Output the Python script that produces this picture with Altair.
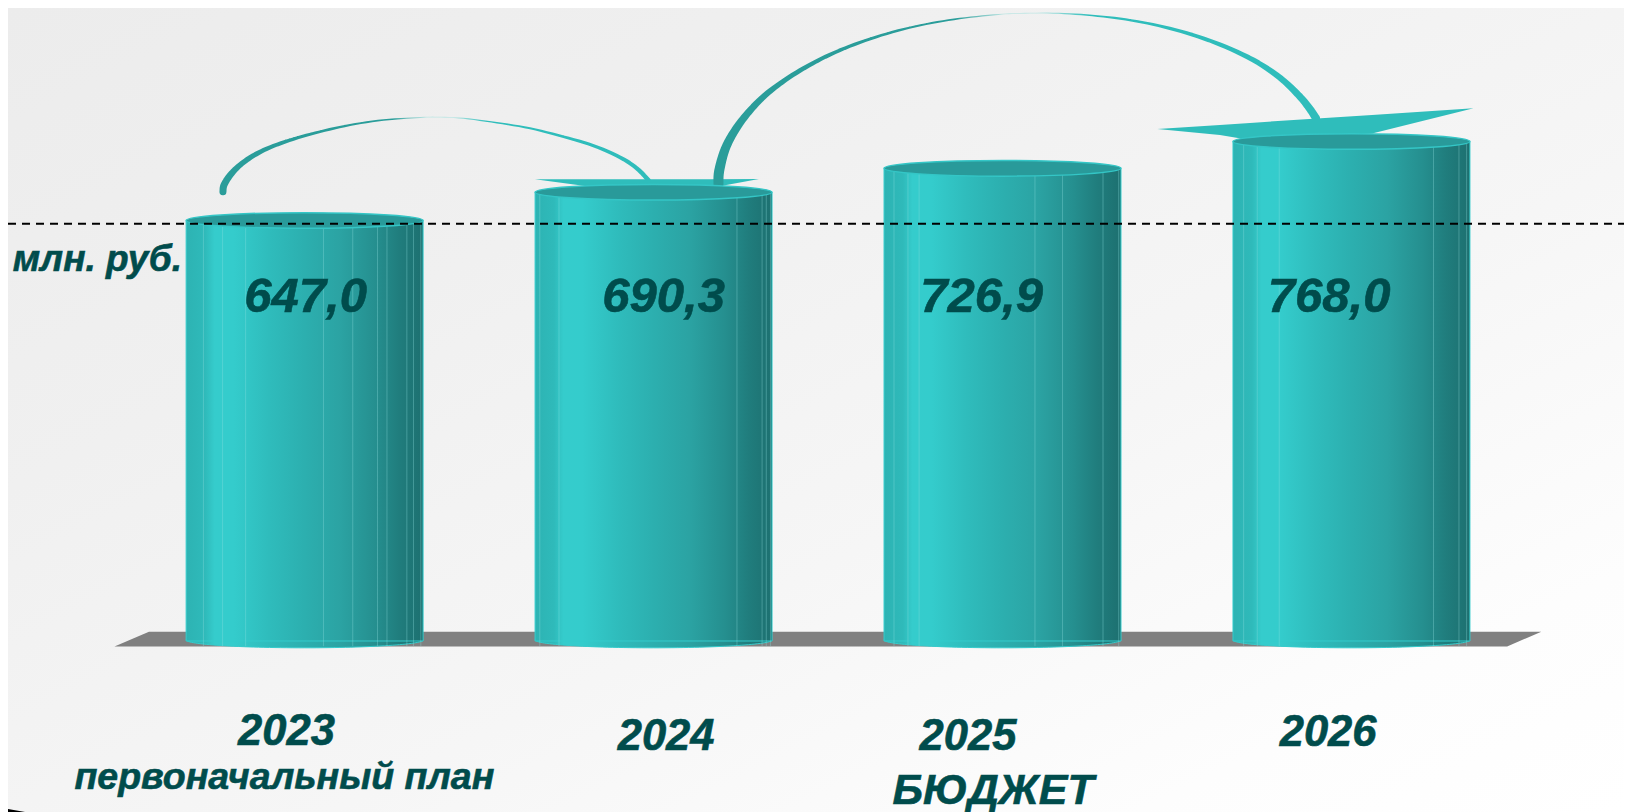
import altair as alt
import pandas as pd

# ---- values ----
years = [2023, 2024, 2025, 2026]
values = [647.0, 690.3, 726.9, 768.0]
value_text = ["647,0", "690,3", "726,9", "768,0"]
value_text_x = [2023.003, 2024.029, 2024.940, 2025.936]
value_text_y = [503.4, 503.4, 503.4, 503.4]

label_text = ["2023", "2024", "2025", "2026"]
label_x = [2022.948, 2024.036, 2024.901, 2025.933]
label_y = [-159.7, -167.7, -167.7, -161.3]

note_text = ["первоначальный план", "млн. руб."]
note_x = [2022.942, 2022.406]
note_y = [-226.7, 567.2]
budget_text = ["БЮДЖЕТ"]
budget_x = [2024.973]
budget_y = [-249.0]

arc1_x = [2022.766, 2022.769, 2022.787, 2022.815, 2022.853, 2022.901, 2022.968, 2023.044, 2023.130, 2023.226,
          2023.321, 2023.379, 2023.455, 2023.551, 2023.646, 2023.742, 2023.828, 2023.904, 2023.952, 2023.985]
arc1_y = [688.0, 698.3, 713.6, 728.9, 743.2, 756.0, 768.7, 779.9, 790.2, 797.8,
          801.4, 802.4, 800.4, 793.7, 785.1, 772.3, 758.5, 740.7, 723.9, 705.9]
arc1_w = [7, 7, 6.5, 5.5, 5, 4.2, 3.4, 2.8, 2.2, 1.6, 1, 0.8, 1, 1.5, 2, 2.6, 3.2, 3.8, 4.2, 4.6]

arc2_x = [2024.186, 2024.188, 2024.205, 2024.234, 2024.272, 2024.319, 2024.377, 2024.444, 2024.520, 2024.606,
          2024.701, 2024.797, 2024.893, 2024.988, 2025.050, 2025.145, 2025.241, 2025.337, 2025.431, 2025.528,
          2025.623, 2025.719, 2025.795, 2025.852, 2025.881, 2025.898]
arc2_y = [699.4, 719.7, 753.1, 782.5, 809.6, 835.4, 859.1, 881.2, 901.5, 919.4,
          934.9, 946.4, 954.3, 959.5, 961.2, 961.5, 958.6, 953.1, 944.2, 931.1,
          913.5, 889.7, 862.7, 833.8, 814.6, 801.0]
arc2_w = [10, 10, 9, 8, 7, 6, 5, 4.4, 3.7, 3,
          2.4, 1.9, 1.4, 1, 0.8, 1, 1.6, 2.2, 2.8, 3.5,
          4.2, 5, 6, 7, 7.6, 8]

floor_x = [2022.455, 2022.554, 2026.446, 2026.544]
floor_top = [-8.3, 14, 14, 14]
floor_bottom = [-8.3, -8.3, -8.3, 14]

wedge_group = ["a", "a", "a", "a", "b", "b", "b", "b", "b"]
wedge_x = [2023.660, 2023.847, 2024.162, 2024.302, 2025.444, 2025.623, 2025.709, 2026.059, 2026.350]
wedge_top = [707.0, 707.2, 707.3, 707.5, 784.0, 790.3, 793.4, 805.6, 815.9]
wedge_bottom = [707.0, 693.7, 693.7, 707.5, 784.0, 774.9, 767.2, 777.2, 815.9]

corner_x = [2022.150, 2022.199]
corner_top = [-257.3, -261.9]
corner_bottom = [-261.9, -261.9]

seam_x = {
    2023: [2022.710, 2022.765, 2022.831, 2023.054, 2023.138, 2023.209, 2023.236, 2023.293, 2023.312, 2023.333],
    2024: [2023.674, 2023.729, 2024.239, 2024.311, 2024.323, 2024.335],
    2025: [2024.689, 2024.729, 2024.761, 2025.093, 2025.172, 2025.288, 2025.333],
    2026: [2025.691, 2025.730, 2025.793, 2026.235, 2026.308, 2026.330],
}
dash_level = [638.9]

# ---- scales ----
W, H = 1616, 804
X_MIN, X_MAX = 2022.150, 2026.781
Y_MIN, Y_MAX = -261.9, 969.4
x_scale = alt.Scale(domain=[X_MIN, X_MAX], range=[0, W], nice=False, zero=False)
y_scale = alt.Scale(domain=[Y_MIN, Y_MAX], range=[H, 0], nice=False, zero=False)
X = lambda f: alt.X(f, type="quantitative", scale=x_scale, axis=None)
Y = lambda f: alt.Y(f, type="quantitative", scale=y_scale, axis=None, stack=None)

HALF = 0.3395
cyl = pd.DataFrame({"year": years, "value": values, "base": [0] * 4})
cyl["left"] = cyl["year"] - HALF
cyl["right"] = cyl["year"] + HALF

FONT = "Liberation Sans"
INK = "#004c4c"
ELLIPSE = "M-1 0 A1 0.066 0 1 1 1 0 A1 0.066 0 1 1 -1 0 Z"
CAP_SIZE = 237 ** 2


def grad(stops, x2=1, y2=0):
    return alt.Gradient(gradient="linear", x1=0, y1=0, x2=x2, y2=y2,
                        stops=[alt.GradientStop(offset=o, color=c) for o, c in stops])


def smooth(seq, steps=6):
    """Rounds the drawn curve through the read points (Catmull-Rom), as a spline line would."""
    out = []
    n = len(seq)
    for i in range(n - 1):
        p0, p1, p2, p3 = seq[max(i - 1, 0)], seq[i], seq[i + 1], seq[min(i + 2, n - 1)]
        for k in range(steps):
            t = k / steps
            out.append(0.5 * (2 * p1 + (p2 - p0) * t + (2 * p0 - 5 * p1 + 4 * p2 - p3) * t ** 2
                              + (3 * p1 - p0 - 3 * p2 + p3) * t ** 3))
    out.append(seq[-1])
    return out


body_stops = [(0, "#2db3b3"), (0.08, "#2fbaba"), (0.12, "#35cccc"), (0.2, "#34cccc"), (0.35, "#2fbcbc"),
              (0.5, "#2cafaf"), (0.65, "#2ba3a3"), (0.8, "#258f8f"), (0.9, "#207d7d"), (1, "#1d7070")]

bg = alt.Chart(pd.DataFrame({"a": [X_MIN], "b": [X_MAX], "c": [Y_MIN], "d": [Y_MAX]})).mark_rect(
    color=grad([(0, "#ececec"), (0.3, "#f0f0f0"), (0.6, "#f6f6f6"), (0.85, "#fdfdfd"), (1, "#ffffff")], 1, 1)
).encode(x=X("a"), x2="b", y=Y("c"), y2="d")

corner = alt.Chart(pd.DataFrame({"x": corner_x, "t": corner_top, "b": corner_bottom})).mark_area(
    color="#000000"
).encode(x=X("x"), y=Y("t"), y2="b")

floor = alt.Chart(pd.DataFrame({"x": floor_x, "t": floor_top, "b": floor_bottom})).mark_area(
    color="#808080"
).encode(x=X("x"), y=Y("t"), y2="b")

wedges = alt.Chart(pd.DataFrame({"g": wedge_group, "x": wedge_x, "t": wedge_top, "b": wedge_bottom})).mark_area(
    color="#2fbdbb"
).encode(x=X("x"), y=Y("t"), y2="b", detail="g:N")

arc_stops = [(0, "#2a9d9a"), (0.4, "#2a9d9a"), (0.48, "#bfe6e4"), (0.54, "#bfe6e4"), (0.62, "#2fbdbb"), (1, "#2fbdbb")]


def arc(xs, ys, ws):
    frame = pd.DataFrame({"x": smooth(xs), "y": smooth(ys), "w": smooth(ws)})
    frame["i"] = range(len(frame))
    return alt.Chart(frame).mark_trail(color=grad(arc_stops)).encode(
        x=X("x"), y=Y("y"), order=alt.Order("i:Q"), size=alt.Size("w:Q", scale=None, legend=None)
    )


arc1 = arc(arc1_x, arc1_y, arc1_w)
arc2 = arc(arc2_x, arc2_y, arc2_w)

bottoms = alt.Chart(cyl).mark_point(
    shape=ELLIPSE, size=CAP_SIZE, filled=True, fill=grad(body_stops), opacity=1, stroke="#33cccc", strokeWidth=1,
    yOffset=-1
).encode(x=X("year"), y=Y("base"))

bodies = alt.Chart(cyl).mark_rect(color=grad(body_stops), stroke="#33cccc", strokeWidth=1, y2Offset=2).encode(
    x=X("left"), x2="right", y=Y("base"), y2="value"
)

seam_rows = [{"x": x, "top": v, "low": -8} for y, v in zip(years, values) for x in seam_x[y]]
seams = alt.Chart(pd.DataFrame(seam_rows)).mark_rule(color="#8fe0e0", opacity=0.35, strokeWidth=1).encode(
    x=X("x"), y=Y("low"), y2="top"
)

caps = alt.Chart(cyl).mark_point(
    shape=ELLIPSE, size=CAP_SIZE, filled=True, fill="#299a9a", opacity=1, stroke="#34c6c6", strokeWidth=1.5,
    yOffset=2
).encode(x=X("year"), y=Y("value"))

dash = alt.Chart(pd.DataFrame({"a": [X_MIN], "b": [X_MAX], "y": dash_level})).mark_rule(
    color="#000000", strokeWidth=2, strokeDash=[8, 6]
).encode(x=X("a"), x2="b", y=Y("y"))


def text(xs, ys, ts, size):
    return alt.Chart(pd.DataFrame({"x": xs, "y": ys, "t": ts})).mark_text(
        font=FONT, fontSize=size, fontWeight="bold", fontStyle="italic", color=INK,
        stroke=INK, strokeWidth=0.6, align="center", baseline="alphabetic"
    ).encode(x=X("x"), y=Y("y"), text="t:N")


chart = alt.layer(
    bg, corner, floor, wedges, arc1, arc2, bottoms, bodies, seams, caps, dash,
    text(value_text_x, value_text_y, value_text, 49),
    text(label_x, label_y, label_text, 43.5),
    text([note_x[0]], [note_y[0]], [note_text[0]], 37.5),
    text([note_x[1]], [note_y[1]], [note_text[1]], 37),
    text(budget_x, budget_y, budget_text, 43),
).properties(width=W, height=H, padding=0, autosize="none", background="#ffffff").configure_view(stroke=None)

chart.save("out.html", embed_options={"renderer": "svg", "actions": False})
